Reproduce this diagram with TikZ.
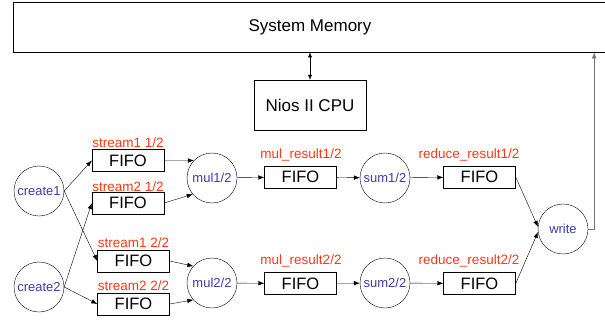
\documentclass[tikz,border=0pt]{standalone}
\usepackage{fontspec}
\setmainfont{Liberation Sans}
\usetikzlibrary{arrows.meta}
\definecolor{procblue}{RGB}{60,60,165}
\definecolor{qred}{RGB}{255,55,20}
\tikzset{
  fifo/.style={draw, minimum width=72pt, minimum height=22pt, inner sep=0pt, font=\fontsize{16.5}{16.5}\selectfont},
  proc/.style={draw, circle, minimum size=50pt, inner sep=0pt, text=procblue, font=\fontsize{13}{13}\selectfont},
  qname/.style={text=qred, anchor=base, inner sep=0pt, font=\fontsize{13.5}{13.5}\selectfont},
  flow/.style={-{Latex[length=6pt,width=4.5pt]}}
}
\begin{document}
\begin{tikzpicture}[x=1pt, y=-1pt]
	\useasboundingbox (0,0) rectangle (605,321);

	%memory and cpu
	\node[draw, anchor=north west, minimum width=600pt, minimum height=50pt, font=\fontsize{17}{17}\selectfont] (mem) at (13,2) {};
	\node[font=\fontsize{17}{17}\selectfont] (memtext) at (310,27) {System Memory};
	\node[draw, minimum width=112pt, minimum height=50pt, font=\fontsize{17}{17}\selectfont] (cpu) at (310,105) {Nios II CPU};
	\draw[{Latex[length=5pt,width=4pt]}-{Latex[length=5pt,width=4pt]}] (cpu.north) -- (cpu.north |- mem.south);

	%processes
	\node[proc] (c1) at (39,191) {create1};
	\node[proc] (c2) at (39,287) {create2};
	\node[proc] (m1) at (212,178) {mul1/2};
	\node[proc] (m2) at (212,283) {mul2/2};
	\node[proc] (r1) at (385,178) {sum1/2};
	\node[proc] (r2) at (385,283) {sum2/2};
	\node[proc] (w) at (563,229) {write};

	%fifos
	\node[fifo] (s11) at (128,160.5) {FIFO};
	\node[fifo] (s21) at (128,203) {FIFO};
	\node[fifo] (s12) at (133.5,261) {FIFO};
	\node[fifo] (s22) at (133.5,304) {FIFO};
	\node[fifo] (mr1) at (300.5,177) {FIFO};
	\node[fifo] (mr2) at (300.5,283.5) {FIFO};
	\node[fifo] (rr1) at (479.5,177) {FIFO};
	\node[fifo] (rr2) at (479.5,283.5) {FIFO};

	%fifo names
	\node[qname] (s11l) at (128,147) {stream1 1/2};
	\node[qname] (s21l) at (128,191) {stream2 1/2};
	\node[qname] (s12l) at (133.5,247.5) {stream1 2/2};
	\node[qname] (s22l) at (133.5,290.5) {stream2 2/2};
	\node[qname] (mr1l) at (301,158) {mul\_result1/2};
	\node[qname] (mr2l) at (301,264) {mul\_result2/2};
	\node[qname] (rr1l) at (469,158) {reduce\_result1/2};
	\node[qname] (rr2l) at (469,264) {reduce\_result2/2};

	%connections
	\draw[flow] (c1.east) -- (s11.west);
	\draw[flow] (c1.east) -- (s12.west);
	\draw[flow] (c2.east) -- (s21.west);
	\draw[flow] (c2.east) -- (s22.west);
	\draw[flow] (s11.east) -- (m1.136);
	\draw[flow] (s21.east) -- (m1.220);
	\draw[flow] (s12.east) -- (m2.138);
	\draw[flow] (s22.east) -- (m2.222);
	\draw[flow] (m1) -- (mr1);
	\draw[flow] (m2) -- (mr2);
	\draw[flow] (mr1) -- (r1);
	\draw[flow] (mr2) -- (r2);
	\draw[flow] (r1) -- (rr1);
	\draw[flow] (r2) -- (rr2);
	\draw[flow] (rr1.east) -- (w.175);
	\draw[flow] (rr2.east) -- (w.187);
	\draw[flow, black!55] (w.east) -- ++(6,0) coordinate (wturn) -- (wturn |- mem.south);
\end{tikzpicture}
\end{document}
